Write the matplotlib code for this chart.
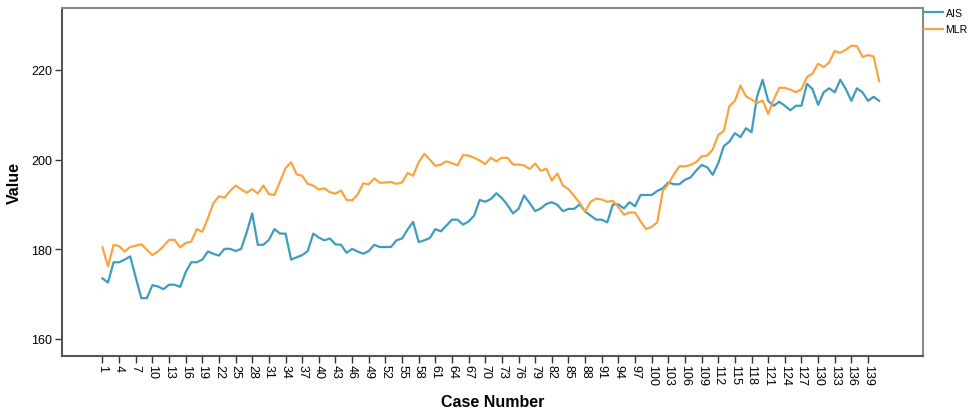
import matplotlib
matplotlib.use("Agg")
import matplotlib.pyplot as plt
import numpy as np

plt.rcParams['font.family'] = ['Liberation Sans', 'DejaVu Sans']

ais = [173.5, 172.6, 177.1, 177.1, 177.7, 178.4, 173.7, 169.1, 169.1, 172.0,
       171.7, 171.1, 172.1, 172.1, 171.6, 174.9, 177.1, 177.1, 177.7, 179.5,
       179.0, 178.6, 180.1, 180.1, 179.6, 180.1, 183.8, 188.0, 181.0, 181.0,
       182.1, 184.5, 183.5, 183.5, 177.7, 178.2, 178.7, 179.6, 183.5, 182.6,
       182.0, 182.4, 181.1, 181.0, 179.2, 180.1, 179.5, 179.0, 179.6, 181.0,
       180.5, 180.5, 180.5, 182.0, 182.4, 184.4, 186.1, 181.6, 182.0, 182.5,
       184.5, 184.0, 185.3, 186.6, 186.6, 185.5, 186.2, 187.5, 191.0, 190.6,
       191.2, 192.5, 191.4, 189.9, 188.0, 189.0, 192.0, 190.3, 188.5, 189.1,
       190.1, 190.5, 189.9, 188.5, 189.0, 189.0, 190.0, 188.4, 187.5, 186.6,
       186.6, 186.0, 190.0, 190.0, 189.1, 190.5, 189.6, 192.1, 192.1, 192.1,
       193.0, 193.6, 194.9, 194.5, 194.5, 195.5, 196.0, 197.5, 198.8, 198.3,
       196.6, 199.2, 203.0, 204.0, 205.9, 205.0, 207.0, 206.1, 214.1, 217.8,
       213.1, 212.0, 212.9, 212.0, 211.0, 212.0, 212.0, 216.9, 215.7, 212.2,
       215.0, 215.9, 215.0, 217.8, 215.7, 213.1, 215.9, 215.0, 213.1, 214.0,
       213.1]

mlr = [180.4, 176.2, 181.0, 180.7, 179.5, 180.5, 180.8, 181.1, 179.9, 178.7,
       179.5, 180.7, 182.1, 182.1, 180.4, 181.4, 181.7, 184.5, 183.9, 186.9,
       190.3, 191.8, 191.5, 193.0, 194.2, 193.4, 192.6, 193.4, 192.4, 194.2,
       192.3, 192.1, 195.1, 198.1, 199.4, 196.7, 196.4, 194.6, 194.2, 193.3,
       193.6, 192.7, 192.4, 193.1, 191.0, 190.9, 192.2, 194.7, 194.5, 195.8,
       194.8, 194.9, 195.0, 194.6, 194.9, 197.0, 196.4, 199.4, 201.3, 200.0,
       198.6, 198.9, 199.6, 199.2, 198.7, 201.0, 200.9, 200.4, 199.8, 199.0,
       200.4, 199.6, 200.4, 200.4, 198.9, 198.9, 198.7, 197.9, 199.1, 197.5,
       198.0, 195.3, 196.9, 194.2, 193.4, 191.9, 190.4, 188.4, 190.6, 191.3,
       191.1, 190.6, 190.8, 189.4, 187.7, 188.2, 188.2, 186.2, 184.5, 185.0,
       186.0, 193.0, 194.5, 196.7, 198.5, 198.5, 198.8, 199.4, 200.7, 200.9,
       202.2, 205.5, 206.4, 211.9, 213.1, 216.5, 214.1, 213.4, 212.6, 213.2,
       210.2, 213.4, 216.0, 216.0, 215.6, 215.0, 215.7, 218.4, 219.2, 221.4,
       220.6, 221.7, 224.2, 223.8, 224.5, 225.4, 225.3, 222.9, 223.3, 223.0,
       217.5]

cases = np.arange(1, len(ais) + 1)
xticks = list(range(1, 140, 3))
yticks = [160, 180, 200, 220]

fig = plt.figure(figsize=(9.7, 4.1), dpi=100)
ax = fig.add_axes([0.0639, 0.1293, 0.8876, 0.8487])

ax.plot(cases, ais, color='#3e9cbf', lw=1.6, label='AIS')
ax.plot(cases, mlr, color='#f9a43e', lw=1.6, label='MLR')

ax.set_xlim(-6.3, 148.9)
ax.set_ylim(156.2, 233.8)
ax.set_xticks(xticks)
ax.set_xticklabels([str(t) for t in xticks], rotation=270, fontsize=9)
ax.set_yticks(yticks)
ax.set_yticklabels([str(t) for t in yticks], fontsize=9)
ax.tick_params(axis='both', direction='out', length=5, width=1, color='#333333')
ax.tick_params(axis='x', pad=1)
ax.tick_params(axis='y', pad=2)

for side in ['left', 'bottom']:
    ax.spines[side].set_color('#555555')
    ax.spines[side].set_linewidth(1.5)
for side in ['top', 'right']:
    ax.spines[side].set_color('#8a8a8a')
    ax.spines[side].set_linewidth(1.5)

ax.set_xlabel('Case Number', fontsize=11.5, fontweight='bold', labelpad=6)
ax.set_ylabel('Value', fontsize=11.5, fontweight='bold', labelpad=7)

fig.legend(loc='upper left', bbox_to_anchor=(0.953, 0.978), frameon=False,
           fontsize=7.6, handlelength=1.8, handletextpad=0.2, labelspacing=0.6,
           borderaxespad=0.0, borderpad=0.0)

fig.savefig('out.png', dpi=100)
